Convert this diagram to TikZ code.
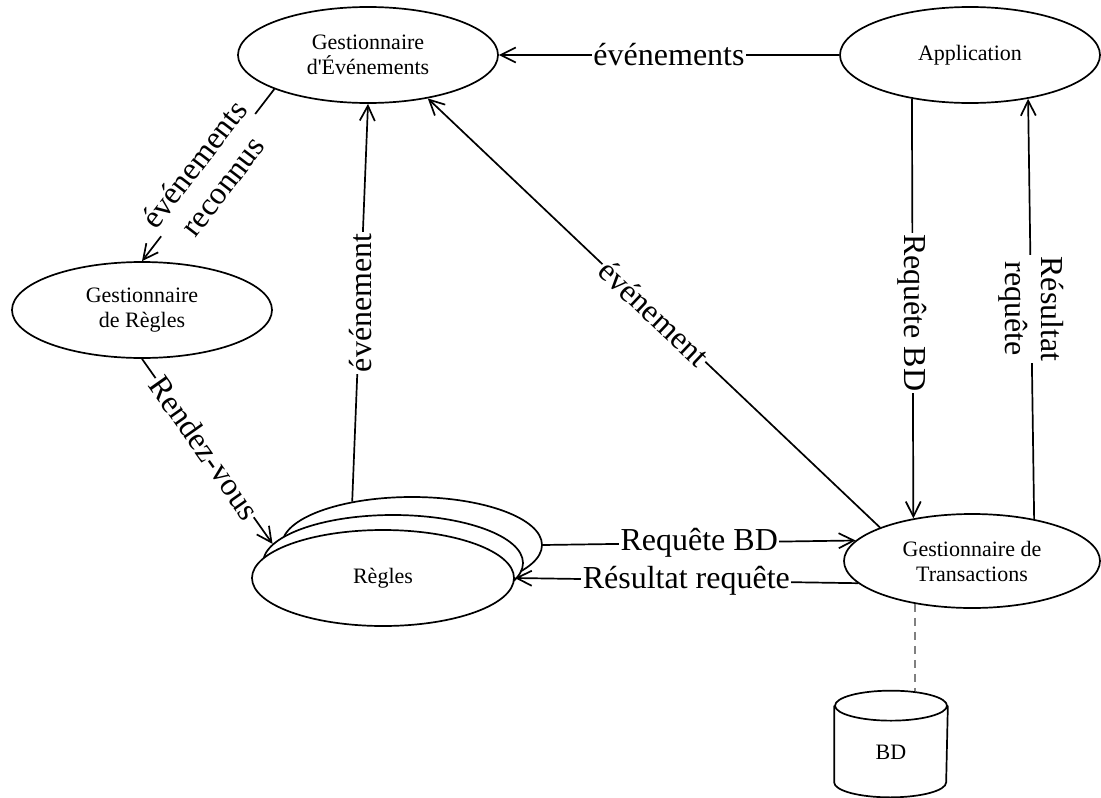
\documentclass[tikz,border=0pt]{standalone}
\usepackage{fontspec}
\setmainfont{Liberation Serif}
\usetikzlibrary{arrows.meta,shapes.geometric}

\begin{document}
\begin{tikzpicture}[
    x=1pt,y=-1pt,
    >={Straight Barb[length=15pt,width=15pt]},
    line width=1.7pt,
    proc/.style={ellipse,draw,fill=white,inner sep=0pt,align=center,
        minimum width=260pt,minimum height=96pt,font=\fontsize{22}{25}\selectfont},
    flow/.style={->},
    lbl/.style={fill=white,inner sep=1.5pt,align=center,font=\fontsize{32}{36}\selectfont},
]
\useasboundingbox (0,0) rectangle (1101,798);

% === Processes ===
\node[proc] (ge) at (368,55) {Gestionnaire\\d\textquotesingle Événements};
\node[proc] (app) at (970,55) {Application};
\node[proc] (gr) at (142,310) {Gestionnaire\\de Règles};
\node[proc] (r3) at (412,545) {};
\node[proc] (r2) at (393,563) {};
\node[proc,minimum width=262pt] (r1) at (383,578) {Règles};
\node[proc,minimum width=256pt,minimum height=94pt] (gt) at (972,561) {Gestionnaire de\\Transactions};

% database drum
\node[inner sep=0pt,minimum width=112pt,minimum height=105pt,
    font=\fontsize{22}{25}\selectfont] (bd) at (891,744) {\raisebox{-15pt}[0pt][0pt]{BD}};
\draw ([yshift=-15pt]bd.north west) -- ([yshift=15pt]bd.south west)
    arc[start angle=180,end angle=360,x radius=56pt,y radius=15pt]
    -- ([yshift=-15pt]bd.north east);
\draw ([yshift=-15pt]bd.north) ellipse[x radius=56pt,y radius=15pt];

% === Flows ===
\draw[flow] (app.west) -- (ge.east) node[lbl,pos=.5] {événements};
\draw[flow] (ge.200) -- (gr.north) node[lbl,pos=.5,sloped] {événements\\reconnus};
\draw[flow] (gr.south) -- (r2.171) node[lbl,pos=.48,sloped] {Rendez-vous};
\draw[flow] (r3.144) -- (ge.south) node[lbl,pos=.5,rotate=90] {événement};
\draw[flow] (gt.160) -- (ge.-36) node[lbl,pos=.5,sloped] {événement};
\draw[flow] (app.217) -- (gt.144) node[lbl,pos=.51,rotate=-90] {Requête BD};
\draw[flow] (gt.34) -- (app.-37) node[lbl,pos=.5,rotate=-90] {Résultat\\requête};
\draw[flow] (r3.east) -- (gt.170) node[lbl,pos=.5] {Requête BD};
\draw[flow] (gt.191) -- (r1.east) node[lbl,pos=.5] {Résultat requête};

% link to the database
\draw[gray,line width=1.2pt,dash pattern=on 8pt off 6pt] (gt.217) -- (gt.217 |- bd.north);
\end{tikzpicture}
\end{document}
